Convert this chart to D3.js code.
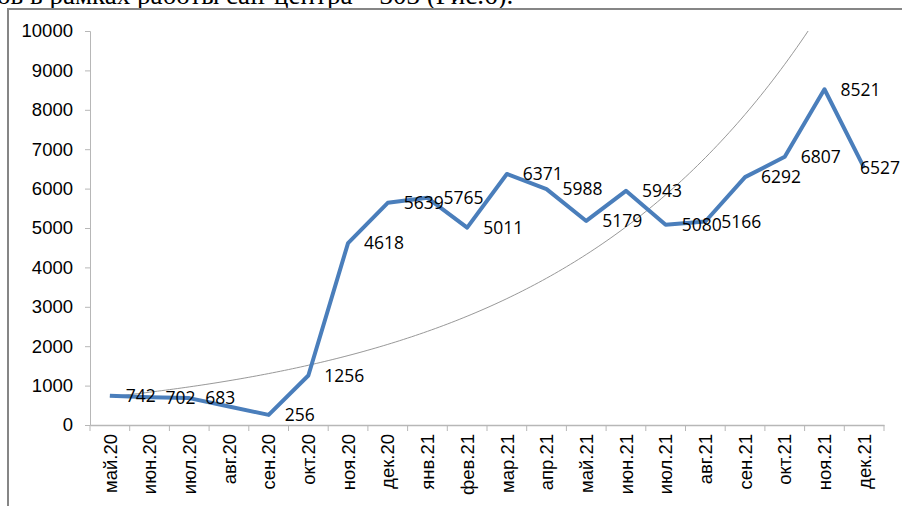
<!DOCTYPE html>
<html>
<head>
<meta charset="utf-8">
<script src="https://cdn.jsdelivr.net/npm/d3@7"></script>
<style>
  body { margin: 0; background: #fff; }
  svg { display: block; }
</style>
</head>
<body>
<svg id="chart" width="902" height="506"></svg>
<script>
var months = [
  "май.20", "июн.20", "июл.20", "авг.20", "сен.20", "окт.20", "ноя.20",
  "дек.20", "янв.21", "фев.21", "мар.21", "апр.21", "май.21", "июн.21",
  "июл.21", "авг.21", "сен.21", "окт.21", "ноя.21", "дек.21"
];
var calls = [
  742, 702, 683, 470, 256, 1256, 4618, 5639, 5765, 5011,
  6371, 5988, 5179, 5943, 5080, 5166, 6292, 6807, 8521, 6527
];
// авг.20 has no label in the picture
var showLabel = [
  true, true, true, false, true, true, true, true, true, true,
  true, true, true, true, true, true, true, true, true, true
];
var yTicks = [0, 1000, 2000, 3000, 4000, 5000, 6000, 7000, 8000, 9000, 10000];

var svg = d3.select("#chart");
var width = 902, height = 506;

svg.append("rect")
  .attr("width", width)
  .attr("height", height)
  .attr("fill", "#fff");

// caption text cut off at the top of the page
svg.append("text")
  .attr("x", -3)
  .attr("y", 4)
  .style("font-family", "'Liberation Serif', serif")
  .style("font-size", "27px")
  .attr("fill", "#000")
  .text("ов в рамках работы call-центра – 303 (Рис.6).");

// chart frame (runs past the right and bottom edges)
svg.append("rect")
  .attr("x", 8)
  .attr("y", 9)
  .attr("width", 1000)
  .attr("height", 600)
  .attr("fill", "#fff")
  .attr("stroke", "#868686")
  .attr("stroke-width", 2);

var x = d3.scaleBand().domain(months).range([90, 884]);
var y = d3.scaleLinear().domain([0, 10000]).range([425, 31]);

function cx(i) {
  return x(months[i]) + x.bandwidth() / 2;
}

var defs = svg.append("defs");
defs.append("clipPath")
  .attr("id", "plot")
  .append("rect")
  .attr("x", 90)
  .attr("y", 31)
  .attr("width", 794)
  .attr("height", 394);

// y axis
var yAxis = svg.append("g")
  .attr("transform", "translate(90,0)")
  .call(d3.axisLeft(y).tickValues(yTicks).tickSize(5).tickPadding(12).tickFormat(d3.format("d")));
yAxis.select(".domain").attr("stroke", "#b7b7b7");
yAxis.selectAll(".tick line").attr("stroke", "#b7b7b7");
yAxis.selectAll("text")
  .attr("fill", "#000")
  .style("font-family", "'Liberation Sans', Arial, sans-serif")
  .style("font-size", "18.5px");

// x axis
var xAxis = svg.append("g")
  .attr("transform", "translate(0,425)")
  .call(d3.axisBottom(x).tickSize(0).tickSizeOuter(0));
xAxis.select(".domain").attr("stroke", "#b7b7b7").attr("stroke-width", 1.5);
xAxis.selectAll("text")
  .attr("fill", "#000")
  .style("font-family", "'Liberation Sans', Arial, sans-serif")
  .style("font-size", "18.5px")
  .attr("transform", "rotate(-90)")
  .attr("text-anchor", "end")
  .attr("x", -9)
  .attr("y", 0)
  .attr("dy", "0.36em");

// category boundary ticks
var bounds = months.map(function (m) { return x(m); }).concat([884]);
svg.append("g")
  .selectAll("line")
  .data(bounds)
  .enter()
  .append("line")
  .attr("x1", function (d) { return d; })
  .attr("x2", function (d) { return d; })
  .attr("y1", 425)
  .attr("y2", 431)
  .attr("stroke", "#b7b7b7");

// exponential trend line (least squares on ln values, x = 1..n)
var n = calls.length;
var sx = 0, sy = 0, sxx = 0, sxy = 0;
calls.forEach(function (v, i) {
  var xi = i + 1, ly = Math.log(v);
  sx += xi; sy += ly; sxx += xi * xi; sxy += xi * ly;
});
var b = (n * sxy - sx * sy) / (n * sxx - sx * sx);
var a = (sy - b * sx) / n;
var trendPts = d3.range(0, n - 1 + 0.001, 0.1).map(function (t) {
  return [cx(0) + t * x.bandwidth(), y(Math.exp(a + b * (t + 1)))];
});
svg.append("path")
  .attr("clip-path", "url(#plot)")
  .attr("d", d3.line()(trendPts))
  .attr("fill", "none")
  .attr("stroke", "#8c8c8c")
  .attr("stroke-width", 0.9);

// data line
var line = d3.line()
  .x(function (d, i) { return cx(i); })
  .y(function (d) { return y(d); });

svg.append("path")
  .datum(calls)
  .attr("d", line)
  .attr("fill", "none")
  .attr("stroke", "#4a7ebb")
  .attr("stroke-width", 4)
  .attr("stroke-linejoin", "round");

// data labels, pushed back inside the frame when they run past the edge
var labelData = calls
  .map(function (v, i) { return { v: v, i: i }; })
  .filter(function (d) { return showLabel[d.i]; });

svg.append("g")
  .selectAll("text")
  .data(labelData)
  .enter()
  .append("text")
  .attr("y", function (d) { return y(d.v); })
  .attr("dy", "0.36em")
  .attr("fill", "#000")
  .style("font-family", "'Open Sans', sans-serif")
  .style("font-size", "17.5px")
  .text(function (d) { return d.v; })
  .attr("x", function (d) {
    var w = this.getComputedTextLength();
    return Math.min(cx(d.i) + 16, width - 2 - w);
  });
</script>
</body>
</html>
